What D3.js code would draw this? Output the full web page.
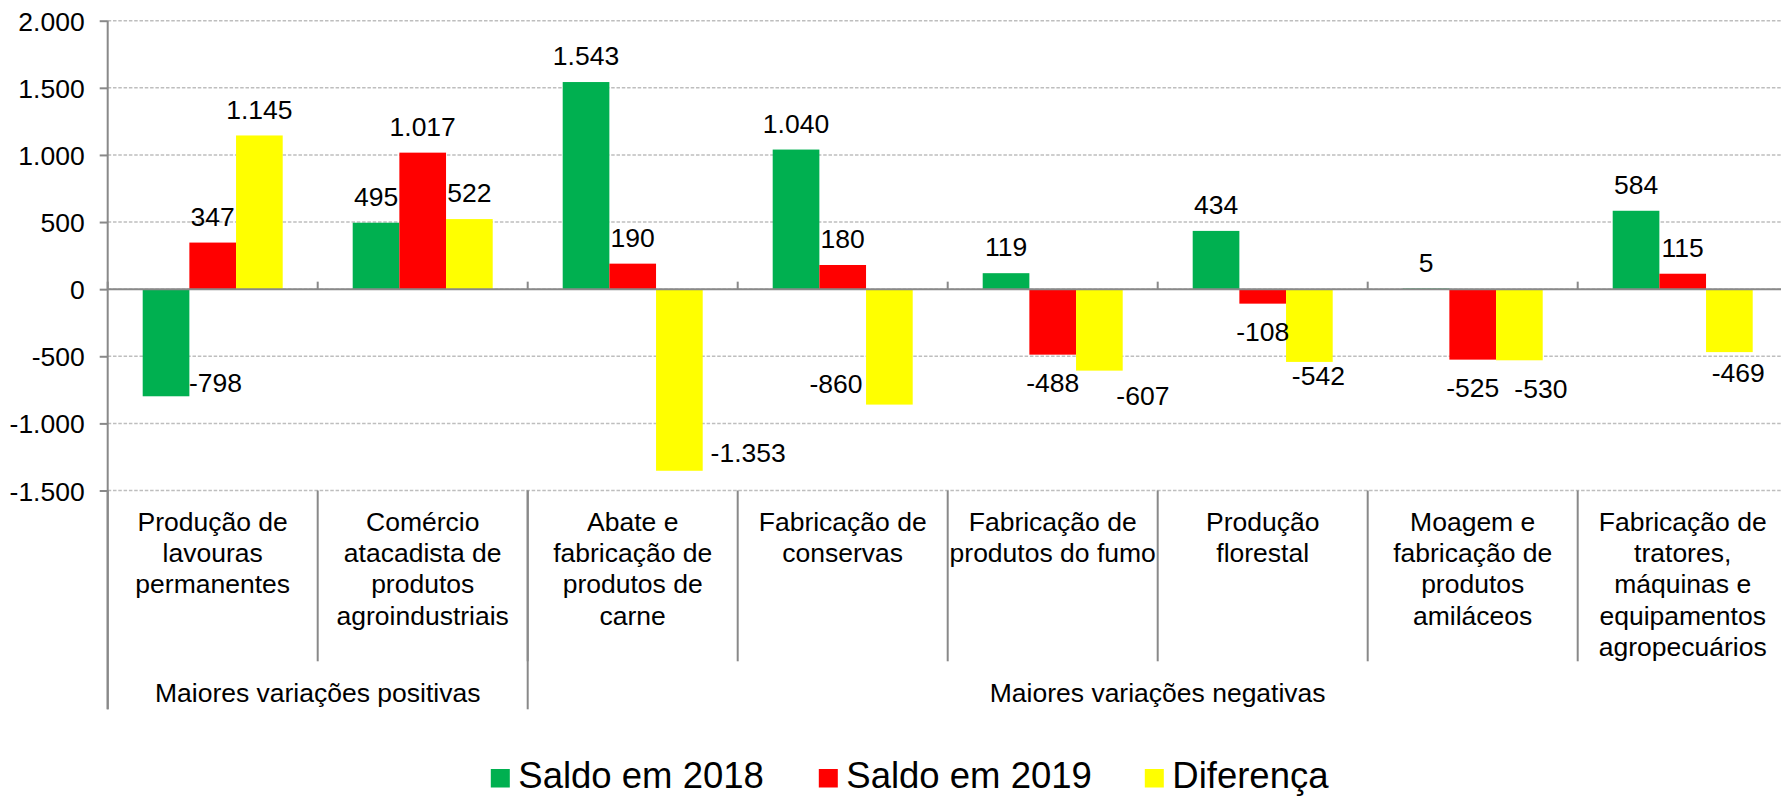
<!DOCTYPE html>
<html><head><meta charset="utf-8">
<script src="https://cdn.jsdelivr.net/npm/d3@7"></script>
<style>
html,body{margin:0;padding:0;background:#fff;}
svg{display:block;font-family:"Liberation Sans",Arial,sans-serif;}
</style></head>
<body>
<script>
// ---- data ----
const categories = [
  "Produção de\nlavouras\npermanentes",
  "Comércio\natacadista de\nprodutos\nagroindustriais",
  "Abate e\nfabricação de\nprodutos de\ncarne",
  "Fabricação de\nconservas",
  "Fabricação de\nprodutos do fumo",
  "Produção\nflorestal",
  "Moagem e\nfabricação de\nprodutos\namiláceos",
  "Fabricação de\ntratores,\nmáquinas e\nequipamentos\nagropecuários"
];
const groups = ["Maiores variações positivas", "Maiores variações negativas"];
const groupSizes = [2, 6];
const seriesNames = ["Saldo em 2018", "Saldo em 2019", "Diferença"];
const saldo2018 = [-798, 495, 1543, 1040, 119, 434, 5, 584];
const saldo2019 = [347, 1017, 190, 180, -488, -108, -525, 115];
const diferenca = [1145, 522, -1353, -860, -607, -542, -530, -469];
const yTicks = [-1500, -1000, -500, 0, 500, 1000, 1500, 2000];

// ---- layout / style ----
const W = 1781, H = 796;
const colors = ["#00B050", "#FF0000", "#FFFF00"];
const plotLeft = 107.7, bandW = 210;
const yTop = 20.7, yBottom = 490.5;
const fs = 26.5;
// manual label nudges (relative to bar centre / bar end), as in the reference
const labelNudge = {
  "0-0": [49.5, -13.8],
  "2-2": [68.8, -18.3],
  "2-3": [-53.3, -21.1],
  "2-4": [43.5, 24.5],
  "2-5": [9, 13.3],
  "2-6": [21.5, 28.2],
  "2-7": [8.8, 20.8]
};

const series = [saldo2018, saldo2019, diferenca];
const loc = d3.formatLocale({decimal: ",", thousands: ".", grouping: [3], currency: ["R$", ""], minus: "-"});
const fmt = loc.format(",d");

const svg = d3.select("body").append("svg").attr("width", W).attr("height", H);

const x = d3.scaleBand().domain(d3.range(categories.length))
  .range([plotLeft, plotLeft + bandW * categories.length]).paddingInner(0).paddingOuter(0);
const bw = x.bandwidth() / 4.5;
const xs = d3.scaleBand().domain(d3.range(3)).range([0.75 * bw, 3.75 * bw]).padding(0);
const y = d3.scaleLinear().domain([-1500, 2000]).range([yBottom, yTop]);
const xRight = plotLeft + bandW * categories.length;

// gridlines
svg.append("g").selectAll("line").data(yTicks).join("line")
  .attr("x1", plotLeft).attr("x2", xRight)
  .attr("y1", d => y(d)).attr("y2", d => y(d))
  .attr("stroke", "#BEBEBE").attr("stroke-width", 1.5).attr("stroke-dasharray", "3.5,1.8");

// y axis
const yAxis = d3.axisLeft(y).tickValues(yTicks).tickSize(8).tickPadding(15).tickFormat(fmt);
const gy = svg.append("g").attr("transform", `translate(${plotLeft},0)`).call(yAxis);
gy.select(".domain").remove();
gy.selectAll(".tick line").attr("stroke", "#898989").attr("stroke-width", 2);
gy.selectAll(".tick text").attr("font-size", fs).attr("fill", "#000")
  .attr("font-family", "Liberation Sans, Arial, sans-serif").attr("dy", "0.36em");
svg.append("line").attr("x1", plotLeft).attr("x2", plotLeft).attr("y1", yTop).attr("y2", 709.3)
  .attr("stroke", "#898989").attr("stroke-width", 2);

// bars
series.forEach((s, si) => {
  svg.append("g").selectAll("rect").data(s).join("rect")
    .attr("x", (d, i) => x(i) + xs(si))
    .attr("width", xs.bandwidth())
    .attr("y", d => Math.min(y(d), y(0)))
    .attr("height", d => Math.abs(y(d) - y(0)))
    .attr("fill", colors[si]);
});

// zero axis line + ticks
svg.append("line").attr("x1", plotLeft).attr("x2", xRight).attr("y1", y(0)).attr("y2", y(0))
  .attr("stroke", "#898989").attr("stroke-width", 2);
svg.append("g").selectAll("line").data(d3.range(categories.length + 1)).join("line")
  .attr("x1", i => plotLeft + i * bandW).attr("x2", i => plotLeft + i * bandW)
  .attr("y1", y(0)).attr("y2", y(0) - 7.5)
  .attr("stroke", "#898989").attr("stroke-width", 2);

// category dividers below plot
svg.append("g").selectAll("line").data(d3.range(1, categories.length)).join("line")
  .attr("x1", i => plotLeft + i * bandW).attr("x2", i => plotLeft + i * bandW)
  .attr("y1", yBottom).attr("y2", 661.3)
  .attr("stroke", "#898989").attr("stroke-width", 2);
// group dividers
let acc = 0;
const groupEdges = [0];
groupSizes.forEach(g => { acc += g; groupEdges.push(acc); });
svg.append("g").selectAll("line").data(groupEdges).join("line")
  .attr("x1", i => plotLeft + i * bandW).attr("x2", i => plotLeft + i * bandW)
  .attr("y1", yBottom).attr("y2", 709.3)
  .attr("stroke", "#898989").attr("stroke-width", 2);

// category labels
const catG = svg.append("g");
categories.forEach((c, i) => {
  const t = catG.append("text").attr("text-anchor", "middle").attr("font-size", fs).attr("fill", "#000");
  c.split("\n").forEach((line, li) => {
    t.append("tspan").attr("x", x(i) + x.bandwidth() / 2).attr("y", 531 + li * 31.2).text(line);
  });
});
// group labels
groups.forEach((g, gi) => {
  const cx = plotLeft + (groupEdges[gi] + groupEdges[gi + 1]) / 2 * bandW;
  svg.append("text").attr("x", cx).attr("y", 701.5).attr("text-anchor", "middle")
    .attr("font-size", fs).attr("fill", "#000").text(g);
});

// value labels
series.forEach((s, si) => {
  s.forEach((v, i) => {
    const cx = x(i) + xs(si) + xs.bandwidth() / 2;
    let dx = 0, dy = v >= 0 ? -26.4 : 28.2;
    const n = labelNudge[si + "-" + i];
    if (n) { dx = n[0]; dy = n[1]; }
    svg.append("text").attr("x", cx + dx).attr("y", y(v) + dy + 0.358 * fs)
      .attr("text-anchor", "middle").attr("font-size", fs).attr("fill", "#000")
      .text(fmt(v));
  });
});

// legend
const legendX = [490.8, 818.8, 1144.8];
seriesNames.forEach((n, i) => {
  svg.append("rect").attr("x", legendX[i]).attr("y", 769).attr("width", 19).attr("height", 18.5)
    .attr("fill", colors[i]);
  svg.append("text").attr("x", legendX[i] + 27.5).attr("y", 787.5).attr("font-size", 36.5)
    .attr("fill", "#000").text(n);
});
</script>
</body></html>
